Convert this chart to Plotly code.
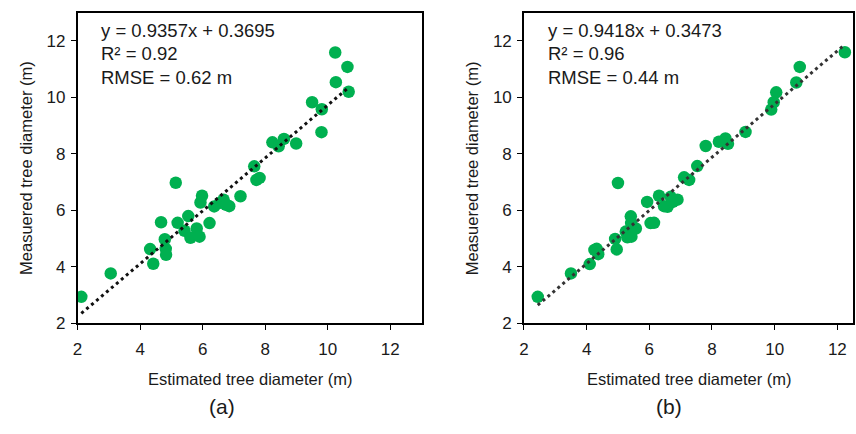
import numpy as np
import plotly.graph_objects as go

# ---- data ----
est_a = [2.12, 3.06, 4.32, 4.42, 4.67, 4.79, 4.82, 4.83, 5.14, 5.20, 5.42, 5.54, 5.61, 5.81,
         5.90, 5.93, 5.98, 6.22, 6.37, 6.56, 6.67, 6.85, 6.75, 7.21, 7.65, 7.72, 7.82, 8.23,
         8.43, 8.60, 8.99, 9.50, 9.80, 9.81, 10.24, 10.26, 10.63, 10.67]
meas_a = [2.94, 3.77, 4.63, 4.11, 5.58, 4.98, 4.64, 4.43, 6.98, 5.56, 5.28, 5.80, 5.03, 5.36,
          5.07, 6.28, 6.52, 5.55, 6.14, 6.27, 6.38, 6.15, 6.20, 6.50, 7.56, 7.08, 7.15, 8.41,
          8.27, 8.53, 8.37, 9.83, 8.77, 9.58, 11.59, 10.54, 11.08, 10.20]

est_b = [2.44, 3.50, 4.10, 4.25, 4.32, 4.37, 4.91, 4.96, 5.00, 5.25, 5.30, 5.43, 5.57, 5.42,
         5.41, 5.93, 6.04, 6.15, 6.31, 6.47, 6.58, 6.68, 6.90, 6.75, 7.11, 7.27, 7.53, 7.80,
         8.22, 8.43, 8.51, 9.07, 9.89, 9.97, 10.05, 10.69, 10.80, 12.24]
meas_b = [2.94, 3.77, 4.10, 4.60, 4.64, 4.45, 4.99, 4.62, 6.97, 5.25, 5.05, 5.07, 5.36, 5.55,
          5.79, 6.30, 5.55, 5.56, 6.52, 6.15, 6.13, 6.48, 6.38, 6.30, 7.17, 7.08, 7.57, 8.28,
          8.43, 8.55, 8.36, 8.78, 9.57, 9.83, 10.18, 10.53, 11.08, 11.60]

slope_a, icept_a, r2_a, rmse_a = 0.9357, 0.3695, 0.92, 0.62
slope_b, icept_b, r2_b, rmse_b = 0.9418, 0.3473, 0.96, 0.44

x_ticks = [2, 4, 6, 8, 10, 12]
y_ticks = [2, 4, 6, 8, 10, 12]
x_title = "Estimated tree diameter (m)"
y_title = "Measuered tree diameter (m)"
panel_labels = ["(a)", "(b)"]

W, H = 856, 434
GREEN = "#00B050"
TXT = "#1a1a1a"
FONT = "Liberation Sans, Arial, sans-serif"

fig = go.Figure()


def px(x):
    return x / W


def py(y):
    return 1 - y / H


panels = [
    dict(est=est_a, meas=meas_a, s=slope_a, c=icept_a, r2=r2_a, rmse=rmse_a,
         xa="x", ya="y", dom=[73 / W, 419 / W], xr=[2, 13], lc="#111111",
         eqx=95, ytx=21, xtx=246, lab=(218, 416)),
    dict(est=est_b, meas=meas_b, s=slope_b, c=icept_b, r2=r2_b, rmse=rmse_b,
         xa="x2", ya="y2", dom=[522 / W, 853 / W], xr=[2, 12.5], lc="#333333",
         eqx=544, ytx=470, xtx=688, lab=(668, 416)),
]

annotations = []
for i, p in enumerate(panels):
    xs = np.array(p["est"])
    xl = np.array([xs.min(), xs.max()])
    yl = p["s"] * xl + p["c"]
    fig.add_trace(go.Scatter(x=p["est"], y=p["meas"], mode="markers", xaxis=p["xa"], yaxis=p["ya"],
                             marker=dict(color=GREEN, size=12.5, line=dict(width=0)),
                             showlegend=False, hoverinfo="skip"))
    fig.add_trace(go.Scatter(x=xl, y=yl, mode="lines", xaxis=p["xa"], yaxis=p["ya"],
                             line=dict(color=p["lc"], width=3, dash="3px,3.5px"),
                             showlegend=False, hoverinfo="skip"))
    lines = [f"y = {p['s']:.4f}x + {p['c']:.4f}", f"R² = {p['r2']:.2f}", f"RMSE = {p['rmse']:.2f} m"]
    for k, t in enumerate(lines):
        annotations.append(dict(text=t, x=px(p["eqx"]), y=py(31 + 24 * k), xref="paper", yref="paper",
                                xanchor="left", yanchor="middle", showarrow=False,
                                font=dict(family=FONT, size=18.5, color=TXT)))
    annotations.append(dict(text=x_title, x=px(p["xtx"]), y=py(388), xref="paper", yref="paper",
                            xanchor="center", yanchor="middle", showarrow=False,
                            font=dict(family=FONT, size=16.5, color=TXT)))
    annotations.append(dict(text=y_title, x=px(p["ytx"]), y=py(172), xref="paper", yref="paper",
                            xanchor="center", yanchor="middle", showarrow=False, textangle=-90,
                            font=dict(family=FONT, size=16.5, color=TXT)))
    annotations.append(dict(text=panel_labels[i], x=px(p["lab"][0]), y=py(p["lab"][1]), xref="paper",
                            yref="paper", xanchor="center", yanchor="middle", showarrow=False,
                            font=dict(family=FONT, size=21, color=TXT)))

ax_common = dict(showgrid=False, zeroline=False, showline=True, linecolor="#000000", linewidth=1.5,
                 mirror=True, ticks="outside", ticklen=5, tickwidth=1.2, tickcolor="#000000",
                 tickfont=dict(family=FONT, size=17, color=TXT))

ydom = [103 / H, 421 / H]
fig.update_layout(
    width=W, height=H, margin=dict(l=0, r=0, t=0, b=0),
    paper_bgcolor="white", plot_bgcolor="white",
    annotations=annotations,
    xaxis=dict(domain=panels[0]["dom"], range=panels[0]["xr"], tickvals=x_ticks, anchor="y",
               ticklabelstandoff=4, **ax_common),
    yaxis=dict(domain=ydom, range=[2, 13], tickvals=y_ticks, anchor="x", ticklabelstandoff=2, **ax_common),
    xaxis2=dict(domain=panels[1]["dom"], range=panels[1]["xr"], tickvals=x_ticks, anchor="y2",
                ticklabelstandoff=4, **ax_common),
    yaxis2=dict(domain=ydom, range=[2, 13], tickvals=y_ticks, anchor="x2", ticklabelstandoff=2, **ax_common),
)

fig.write_html("out.html")
